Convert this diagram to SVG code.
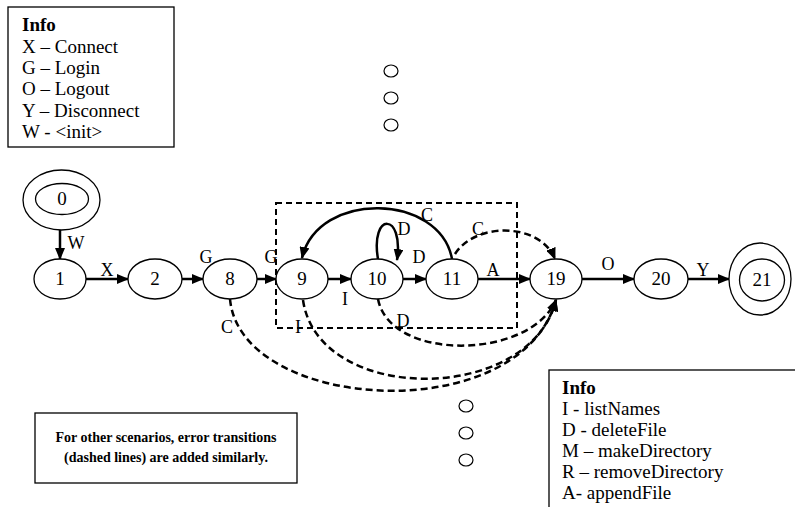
<svg xmlns="http://www.w3.org/2000/svg" width="795" height="507" viewBox="0 0 795 507">
  <style>
    text { font-family: "Liberation Serif", "Times New Roman", serif; fill: #000; }
    .info { font-size: 19px; }
    .bold { font-weight: bold; }
    .lbl { font-size: 18px; text-anchor: middle; }
    .num { font-size: 19px; text-anchor: middle; }
    .node { fill: #fff; stroke: #000; stroke-width: 1.3; }
    .box { fill: #fff; stroke: #000; stroke-width: 1.3; }
    .edge { fill: none; stroke: #000; stroke-width: 2.5; marker-end: url(#ah); }
    .err { fill: none; stroke: #000; stroke-width: 2.5; stroke-dasharray: 7 4; marker-end: url(#ah); }
    .dots { fill: none; stroke: #000; stroke-width: 1.2; }
  </style>
  <defs>
    <marker id="ah" markerWidth="12" markerHeight="10" refX="11" refY="5" orient="auto" markerUnits="userSpaceOnUse">
      <path d="M0,0 L12,5 L0,10 z" fill="#000"/>
    </marker>
  </defs>

  <!-- legend: connection operations -->
  <g id="legend-connection">
    <rect class="box" x="8" y="7" width="166" height="140"/>
    <text class="info bold" x="22" y="31">Info</text>
    <text class="info" x="22" y="52.5">X – Connect</text>
    <text class="info" x="22" y="74">G – Login</text>
    <text class="info" x="22" y="95">O – Logout</text>
    <text class="info" x="22" y="116.5">Y – Disconnect</text>
    <text class="info" x="22" y="138">W - &lt;init&gt;</text>
  </g>

  <!-- vertical ellipsis marks -->
  <g id="ellipsis-top" class="dots">
    <ellipse cx="391" cy="71" rx="7" ry="6"/>
    <ellipse cx="391" cy="98" rx="7" ry="6"/>
    <ellipse cx="391" cy="125" rx="7" ry="6"/>
  </g>
  <g id="ellipsis-bottom" class="dots">
    <ellipse cx="466" cy="406" rx="7" ry="6"/>
    <ellipse cx="466" cy="433" rx="7" ry="6"/>
    <ellipse cx="466" cy="460" rx="7" ry="6"/>
  </g>

  <!-- file operation region -->
  <rect id="region" x="276" y="203" width="241" height="125" fill="none" stroke="#000" stroke-width="2" stroke-dasharray="6 4"/>

  <!-- transitions -->
  <g id="connectors">
    <line class="edge" x1="60" y1="230" x2="60" y2="259"/>
    <line class="edge" x1="86" y1="279" x2="128" y2="279"/>
    <line class="edge" x1="182" y1="279" x2="203" y2="279"/>
    <line class="edge" x1="257" y1="279" x2="276" y2="279"/>
    <line class="edge" x1="328" y1="279" x2="351" y2="279"/>
    <line class="edge" x1="403" y1="279" x2="426" y2="279"/>
    <line class="edge" x1="478" y1="279" x2="530" y2="279"/>
    <line class="edge" x1="582" y1="279" x2="634" y2="279"/>
    <line class="edge" x1="688" y1="279" x2="729" y2="279"/>
    <path class="edge" d="M378,259 C370,212 404,212 397,260"/>
    <path class="edge" d="M452,259 C440,193 318,190 302,258"/>
    <path class="err" d="M455,254 C475,222 540,222 555,259"/>
    <path class="err" d="M230,299 C240,412 520,430 556,300"/>
    <path class="err" d="M303,300 C318,405 530,405 556,300"/>
    <path class="err" d="M378,299 C390,362 530,360 556,300"/>

    <text class="lbl" x="76" y="249">W</text>
    <text class="lbl" x="107" y="276">X</text>
    <text class="lbl" x="206" y="263">G</text>
    <text class="lbl" x="271" y="263">G</text>
    <text class="lbl" x="345" y="305">I</text>
    <text class="lbl" x="404" y="235">D</text>
    <text class="lbl" x="419" y="263">D</text>
    <text class="lbl" x="427" y="221">C</text>
    <text class="lbl" x="478" y="235">C</text>
    <text class="lbl" x="493" y="276">A</text>
    <text class="lbl" x="608" y="270">O</text>
    <text class="lbl" x="703" y="276">Y</text>
    <text class="lbl" x="227" y="333">C</text>
    <text class="lbl" x="298" y="333">I</text>
    <text class="lbl" x="403" y="327">D</text>
  </g>

  <!-- states -->
  <g id="n0">
    <ellipse class="node" cx="61.5" cy="200" rx="38.5" ry="30"/>
    <ellipse class="node" cx="62" cy="199" rx="26.5" ry="15.5"/>
    <text class="num" x="62" y="205">0</text>
  </g>
  <g id="n1">
    <ellipse class="node" cx="60" cy="279" rx="26" ry="20"/>
    <text class="num" x="60" y="285">1</text>
  </g>
  <g id="n2">
    <ellipse class="node" cx="155" cy="279" rx="27" ry="20"/>
    <text class="num" x="155" y="285">2</text>
  </g>
  <g id="n8">
    <ellipse class="node" cx="230" cy="279" rx="27" ry="20"/>
    <text class="num" x="230" y="285">8</text>
  </g>
  <g id="n9">
    <ellipse class="node" cx="302" cy="279" rx="26" ry="20"/>
    <text class="num" x="302" y="285">9</text>
  </g>
  <g id="n10">
    <ellipse class="node" cx="377" cy="279" rx="26" ry="20"/>
    <text class="num" x="377" y="285">10</text>
  </g>
  <g id="n11">
    <ellipse class="node" cx="452" cy="279" rx="26" ry="20"/>
    <text class="num" x="452" y="285">11</text>
  </g>
  <g id="n19">
    <ellipse class="node" cx="556" cy="279" rx="26" ry="20"/>
    <text class="num" x="556" y="285">19</text>
  </g>
  <g id="n20">
    <ellipse class="node" cx="661" cy="279" rx="27" ry="20"/>
    <text class="num" x="661" y="285">20</text>
  </g>
  <g id="n21">
    <ellipse class="node" cx="760" cy="279" rx="31" ry="36"/>
    <ellipse class="node" cx="762" cy="280" rx="22.5" ry="21"/>
    <text class="num" x="762" y="286">21</text>
  </g>

  <!-- note -->
  <g id="note">
    <rect class="box" x="35" y="413" width="262" height="70"/>
    <text class="bold" x="166" y="442" font-size="14" text-anchor="middle">For other scenarios, error transitions</text>
    <text class="bold" x="166" y="462" font-size="14" text-anchor="middle">(dashed lines) are added similarly.</text>
  </g>

  <!-- legend: file operations -->
  <g id="legend-file">
    <rect class="box" x="549" y="370" width="260" height="150"/>
    <text class="info bold" x="562" y="394">Info</text>
    <text class="info" x="562" y="415">I -  listNames</text>
    <text class="info" x="562" y="436">D - deleteFile</text>
    <text class="info" x="562" y="457">M – makeDirectory</text>
    <text class="info" x="562" y="478">R – removeDirectory</text>
    <text class="info" x="562" y="499">A- appendFile</text>
  </g>
</svg>
